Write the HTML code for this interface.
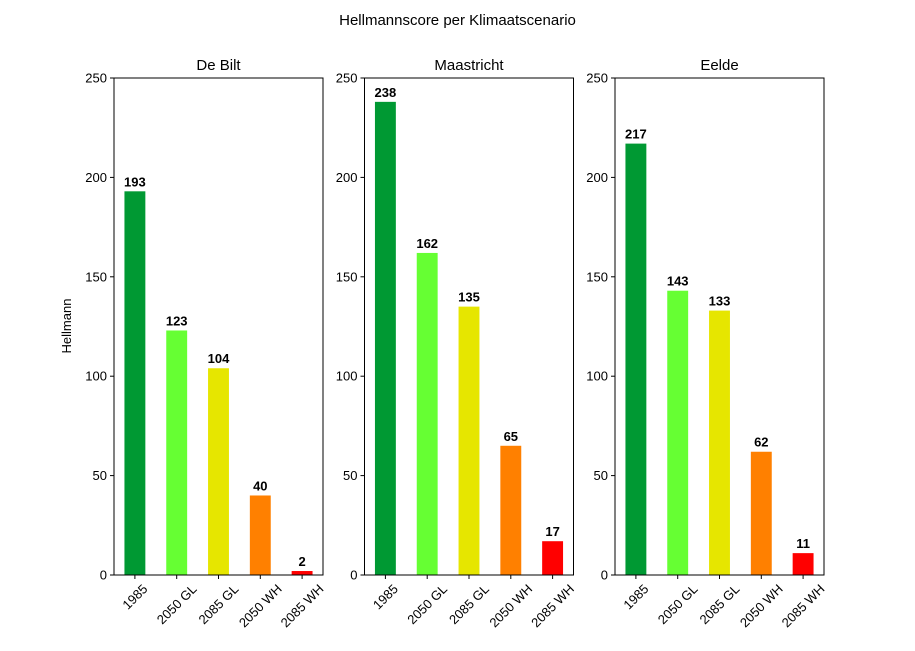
<!DOCTYPE html>
<html><head><meta charset="utf-8"><style>
body{margin:0;background:#fff;}
svg text{font-family:"Liberation Sans","DejaVu Sans",sans-serif;}
</style></head><body>
<svg id="chart" width="915" height="646" xmlns="http://www.w3.org/2000/svg">
<rect width="915" height="646" fill="#fff"/>
<text x="457.5" y="25" text-anchor="middle" font-size="15">Hellmannscore per Klimaatscenario</text>
<text x="71" y="326" text-anchor="middle" font-size="13" transform="rotate(-90 71 326)">Hellmann</text>
</svg>
<script>
const categories = ["1985","2050 GL","2085 GL","2050 WH","2085 WH"];
const stations = ["De Bilt","Maastricht","Eelde"];
const deBiltValues = [193,123,104,40,2];
const maastrichtValues = [238,162,135,65,17];
const eeldeValues = [217,143,133,62,11];
const yTicks = [0,50,100,150,200,250];
const colors = ["#009933","#66ff33","#e6e600","#ff8000","#ff0000"];
const series = [deBiltValues, maastrichtValues, eeldeValues];
const panelLefts = [114,364.5,615];
const W = 209, TOP = 78, BOT = 575, YMAX = 250;
const NS = "http://www.w3.org/2000/svg";
const svg = document.getElementById("chart");
function mk(tag, attrs, parent){const e=document.createElementNS(NS,tag);for(const k in attrs)e.setAttribute(k,attrs[k]);(parent||svg).appendChild(e);return e;}
series.forEach((vals, p) => {
  const x0 = panelLefts[p];
  const g = mk("g", {});
  
  
  const xs = i => x0 + (i + 0.5) * W / categories.length;
  const ys = v => BOT - v / YMAX * (BOT - TOP);
  const bw = 0.5 * W / categories.length;
  vals.forEach((v, i) => {
    const r = mk("rect", {x: xs(i) - bw/2, y: ys(v), width: bw, height: BOT - ys(v), fill: colors[i]}, g);
    
    
    const t = mk("text", {x: xs(i), y: ys(v) - 5, "text-anchor": "middle", "font-size": "13", "font-weight": "bold"}, g);
    t.textContent = v;
    
    
    mk("line", {x1: xs(i), x2: xs(i), y1: BOT, y2: BOT + 4, stroke: "#000"}, g);
    const tl = mk("text", {x: 0, y: 4.5, "text-anchor": "middle", "font-size": "13"}, g);
    tl.textContent = categories[i];
    
    
    const w = tl.getComputedTextLength();
    const h = (w + 13) * 0.7071;
    tl.setAttribute("transform", `translate(${xs(i)},${BOT + 7 + h/2}) rotate(-45)`);
  });
  yTicks.forEach(tv => {
    mk("line", {x1: x0 - 4, x2: x0, y1: ys(tv), y2: ys(tv), stroke: "#000"}, g);
    const t = mk("text", {x: x0 - 7, y: ys(tv) + 4.5, "text-anchor": "end", "font-size": "13"}, g);
    t.textContent = tv;
    
    
  });
  const fr = mk("rect", {x: x0, y: TOP, width: W, height: BOT - TOP, fill: "none", stroke: "#000", "stroke-width": 1}, g);
  
  
  const st = mk("text", {x: x0 + W/2, y: TOP - 8, "text-anchor": "middle", "font-size": "15"}, g);
  st.textContent = stations[p];
  
  
});
</script>
</body></html>
